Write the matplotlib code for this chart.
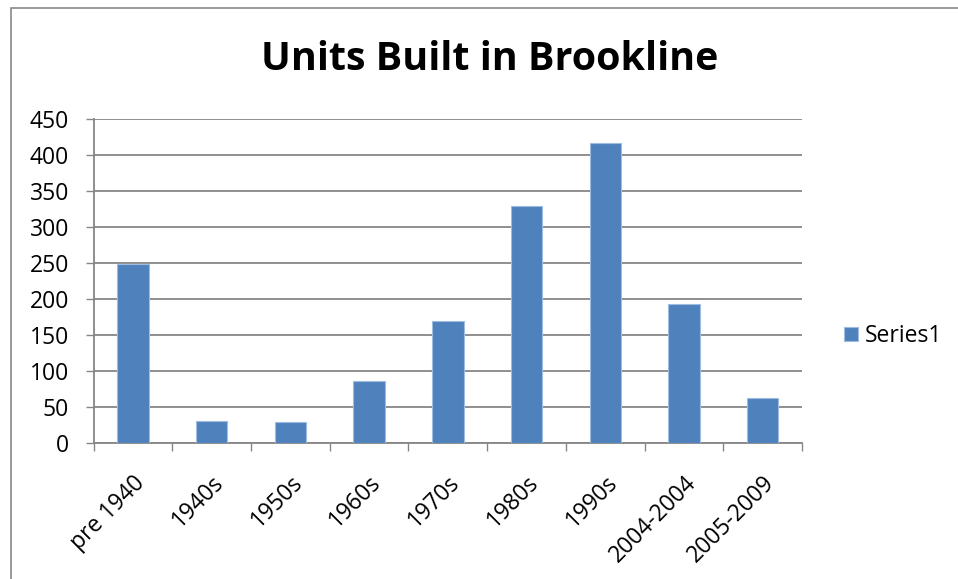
import matplotlib
matplotlib.use("Agg")
import matplotlib.pyplot as plt
from matplotlib.patches import Rectangle
import numpy as np

categories = ["pre 1940", "1940s", "1950s", "1960s", "1970s", "1980s", "1990s", "2004-2004", "2005-2009"]
values = [249, 31, 29, 87, 170, 330, 417, 194, 63]
yticks = [0, 50, 100, 150, 200, 250, 300, 350, 400, 450]
series_name = "Series1"
title = "Units Built in Brookline"

plt.rcParams['font.family'] = ['Open Sans', 'DejaVu Sans']

W, H = 958, 579
fig = plt.figure(figsize=(W / 100, H / 100), dpi=100)
ax = fig.add_axes([93.7 / W, (H - 443.3) / H, (802 - 93.7) / W, (443.3 - 119.3) / H])

grid_c = "#868686"
x = np.arange(len(categories))
ax.bar(x, values, width=0.4, color="#4F81BD", edgecolor="#9DBCE0", linewidth=0.8,
       label=series_name, zorder=3)

ax.set_xlim(-0.5, len(categories) - 0.5)
ax.set_ylim(0, 450)
ax.set_yticks(yticks)
ax.set_yticklabels([str(v) for v in yticks])
ax.yaxis.grid(True, color=grid_c, linewidth=1.3, zorder=0)
ax.tick_params(axis='y', length=5.8, width=1.0, color=grid_c, pad=12, labelsize=16.5)

ax.set_xticks(x)
ax.set_xticklabels(categories, rotation=45, ha='right', va='top', rotation_mode='anchor', fontsize=16.5)
ax.set_xticks(np.arange(-0.5, len(categories)), minor=True)
ax.tick_params(axis='x', which='major', length=0, pad=20)
ax.tick_params(axis='x', which='minor', length=5.8, width=1.0, color=grid_c)

for s in ['top', 'right']:
    ax.spines[s].set_visible(False)
for s in ['left', 'bottom']:
    ax.spines[s].set_color(grid_c)
    ax.spines[s].set_linewidth(1.3)

fig.text(490 / W, 1 - 60 / H, title, ha='center', va='center', fontsize=28.4, fontweight='bold')

leg = fig.legend(loc='center left', bbox_to_anchor=(844 / W, 1 - 336 / H), frameon=False,
                 fontsize=16.5, handlelength=0.6, handleheight=0.6, handletextpad=0.3,
                 borderaxespad=0, borderpad=0)

fig.add_artist(Rectangle((11 / W, -0.1), 1.2, 1 - 8 / H + 0.1, transform=fig.transFigure,
                         fill=False, edgecolor="#898989", linewidth=1.2, clip_on=False))

fig.savefig("out.png", dpi=100)
